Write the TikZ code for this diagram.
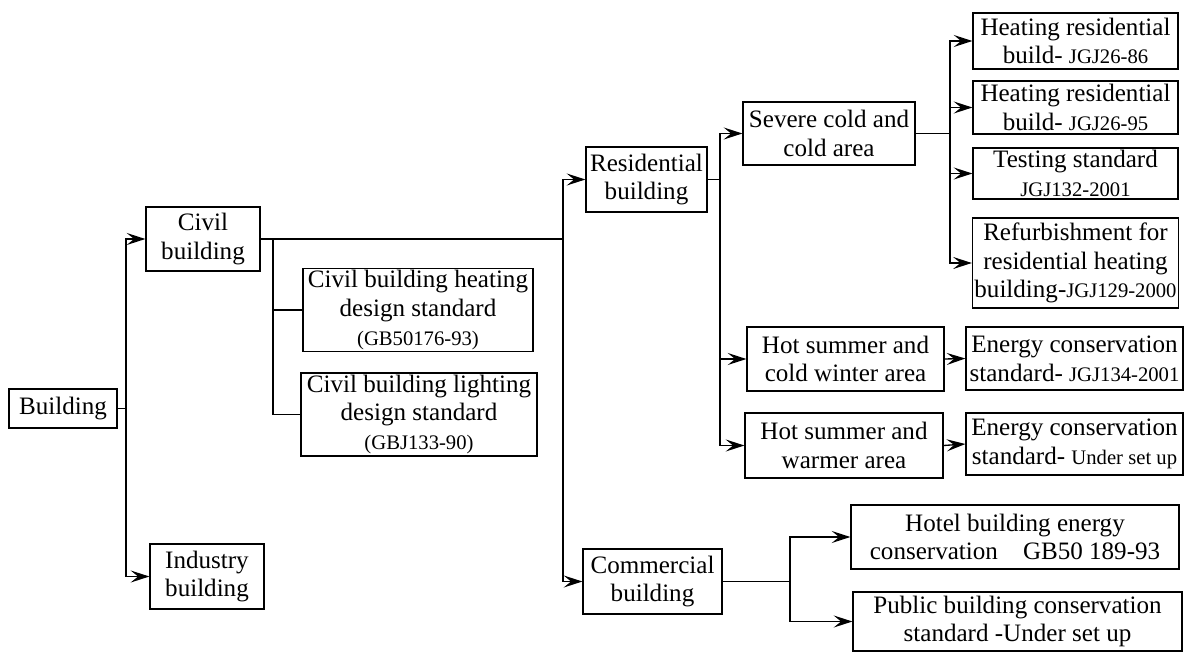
\documentclass[tikz,border=0pt]{standalone}
\usepackage{fontspec}
\setmainfont{Liberation Serif}
\usepackage{tikz}
\usetikzlibrary{arrows.meta}
\newcommand{\codetxt}{\fontsize{15.5}{17}\selectfont}
\tikzset{
  box/.style={draw, line width=0.9pt, align=center, inner sep=1.5pt,
    font=\fontsize{18.8}{21.5}\selectfont},
  link/.style={line width=1pt},
  arr/.style={line width=1pt, -{Stealth[length=14pt,width=9pt,inset=5.5pt]}}
}
\begin{document}
\begin{tikzpicture}[x=0.75pt,y=0.75pt,yscale=-1,xscale=1]
        \useasboundingbox (0,0) rectangle (1184,652);

        \node (bld) [box, minimum width=81pt, minimum height=29.25pt] at (63,408.5) {Building};
        \node (civil) [box, minimum width=85.5pt, minimum height=48pt] at (203,239) {Civil\\building};
        \node (ind) [box, minimum width=85.5pt, minimum height=48.75pt] at (207,576.5) {Industry\\building};
        \node (heatstd) [box, minimum width=172.5pt, minimum height=61.5pt] at (418,310) {Civil building heating\\design standard\\{\codetxt (GB50176-93)}};
        \node (lightstd) [box, minimum width=177pt, minimum height=62.25pt] at (419,414.5) {Civil building lighting\\design standard\\{\codetxt (GBJ133-90)}};
        \node (resi) [box, minimum width=90.75pt, minimum height=48.75pt] at (646.5,179.5) {Residential\\building};
        \node (comm) [box, minimum width=104.25pt, minimum height=48.75pt] at (652.5,581.5) {Commercial\\building};
        \node (severe) [box, minimum width=129pt, minimum height=47.25pt] at (829,133.5) {Severe cold and\\cold area};
        \node (hscw) [box, minimum width=147.75pt, minimum height=48pt] at (845.5,359) {Hot summer and\\cold winter area};
        \node (hsw) [box, minimum width=148.5pt, minimum height=48.75pt] at (844,445.5) {Hot summer and\\warmer area};
        \node (jgjA) [box, minimum width=153.75pt, minimum height=42pt] at (1075.5,41) {Heating residential\\build- {\codetxt JGJ26-86}};
        \node (jgjB) [box, minimum width=153.75pt, minimum height=39.75pt] at (1075.5,107.5) {Heating residential\\build- {\codetxt JGJ26-95}};
        \node (test) [box, minimum width=153.75pt, minimum height=38.25pt] at (1075.5,173.5) {Testing standard\\{\codetxt JGJ132-2001}};
        \node (refurb) [box, minimum width=153.75pt, minimum height=67.5pt] at (1075.5,263) {Refurbishment for\\residential heating\\building-{\codetxt JGJ129-2000}};
        \node (ecsA) [box, minimum width=162.75pt, minimum height=47.25pt] at (1074.5,358.5) {Energy conservation\\standard- {\codetxt JGJ134-2001}};
        \node (ecsB) [box, minimum width=162.75pt, minimum height=46.5pt] at (1074.5,444) {Energy conservation\\standard- {\codetxt Under set up}};
        \node (hotel) [box, minimum width=246pt, minimum height=48pt] at (1015,537) {Hotel building energy\\conservation\quad GB50 189-93};
        \node (public) [box, minimum width=246.75pt, minimum height=44.25pt] at (1017.5,621.5) {Public building conservation\\standard -Under set up};

        \coordinate (jA) at (126,408.5);
        \coordinate (jB) at (273,239);
        \coordinate (jC) at (563,239);
        \coordinate (jD) at (720,179.5);
        \coordinate (jE) at (950,133.5);
        \coordinate (jF) at (790,581.5);

        \draw [link] (bld.east) -- (jA);
        \draw [arr] (jA) |- (civil.west);
        \draw [arr] (jA) |- (ind.west);
        \draw [link] (civil.east) -- (jC);
        \draw [link] (jB) |- (heatstd.west);
        \draw [link] (jB) |- (lightstd.west);
        \draw [arr] (jC) |- (resi.west);
        \draw [arr] (jC) |- (comm.west);
        \draw [link] (resi.east) -- (jD);
        \draw [arr] (jD) |- (severe.west);
        \draw [arr] (jD) |- (hscw.west);
        \draw [arr] (jD) |- (hsw.west);
        \draw [link] (severe.east) -- (jE);
        \draw [arr] (jE) |- (jgjA.west);
        \draw [arr] (jE) |- (jgjB.west);
        \draw [arr] (jE) |- (test.west);
        \draw [arr] (jE) |- (refurb.west);
        \draw [arr] (hscw.east) -- (ecsA.west);
        \draw [arr] (hsw.east) -- (ecsB.west);
        \draw [link] (comm.east) -- (jF);
        \draw [arr] (jF) |- (hotel.west);
        \draw [arr] (jF) |- (public.west);
\end{tikzpicture}
\end{document}
